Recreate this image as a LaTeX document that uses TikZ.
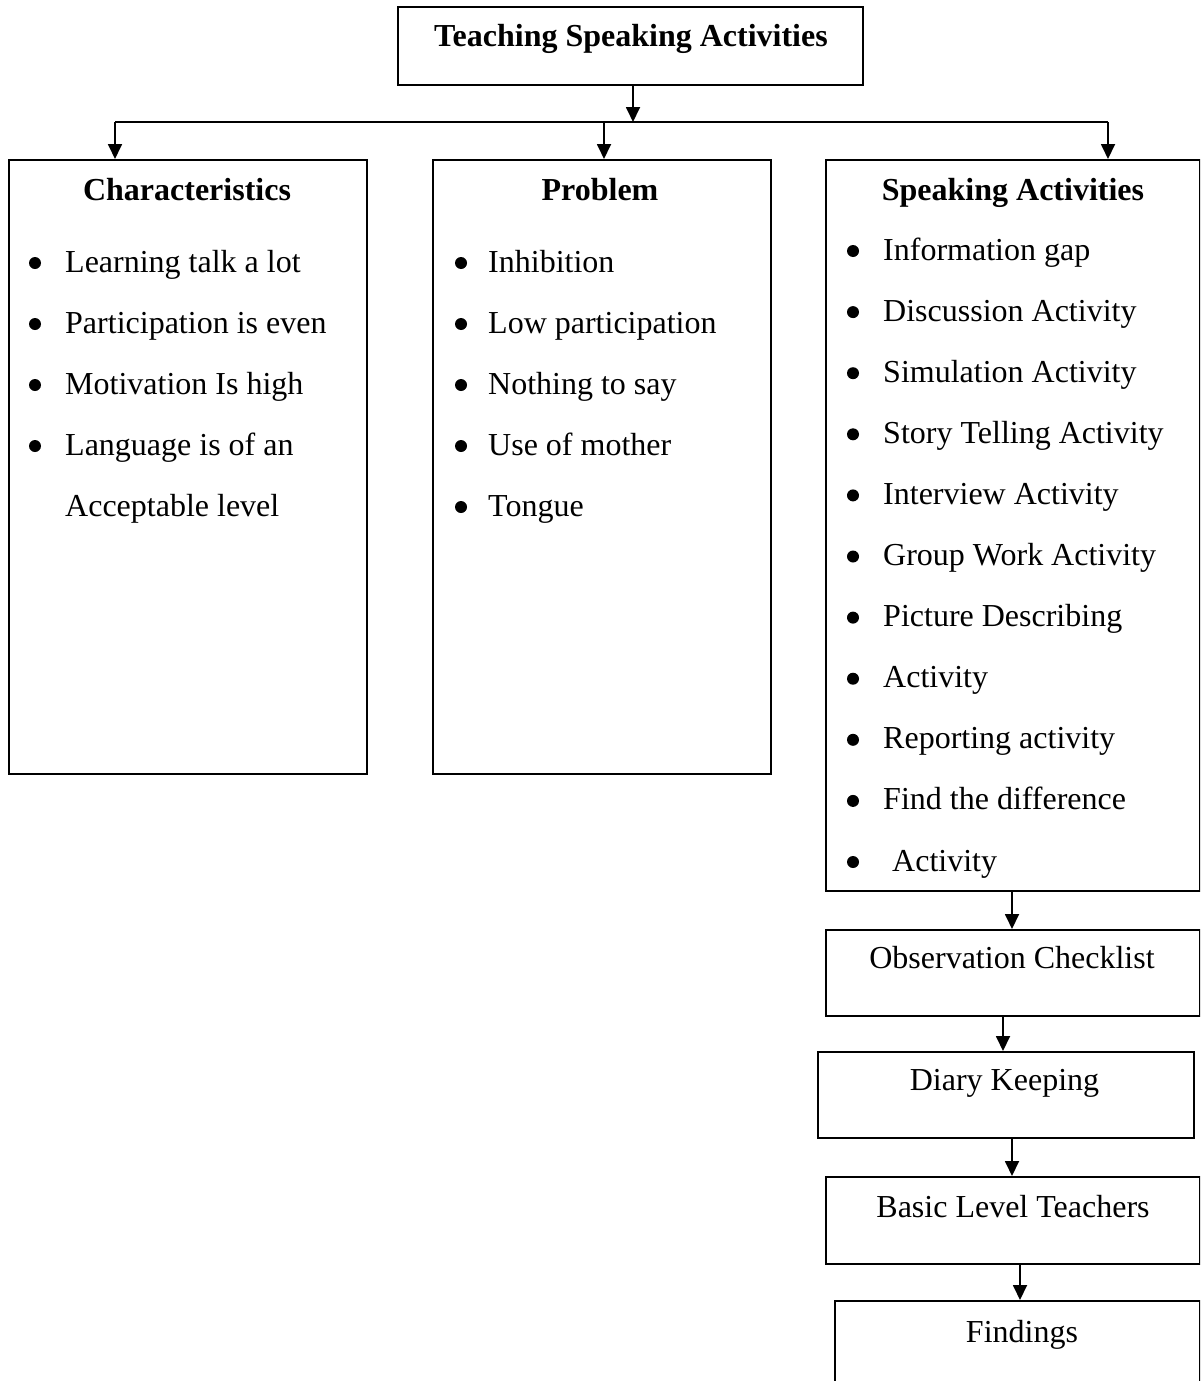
\documentclass[tikz,border=0pt]{standalone}
\usepackage{fontspec}
\setmainfont{Liberation Serif}
\usetikzlibrary{arrows.meta}
\begin{document}
\begin{tikzpicture}[x=1pt,y=-1pt,
  box/.style={draw,line width=1.8pt,rectangle,inner sep=0pt,anchor=north west},
  conn/.style={line width=1.8pt},
  arr/.style={conn,-{Triangle[width=14pt,length=15pt]}},
  txt/.style={anchor=base west,inner sep=0pt,font=\fontsize{32}{38}\selectfont},
  head/.style={anchor=base,inner sep=0pt,font=\fontsize{32}{38}\selectfont\bfseries},
  ctr/.style={anchor=base,inner sep=0pt,font=\fontsize{32}{38}\selectfont},
  dot/.style={circle,fill,inner sep=0pt,minimum size=12pt}]
\useasboundingbox (0,0) rectangle (1200,1381);
\clip (0,0) rectangle (1200,1381);
% boxes
\node[box,minimum width=465pt,minimum height=78pt] (top) at (397,6) {};
\node[box,minimum width=358pt,minimum height=614pt] (char) at (8,159) {};
\node[box,minimum width=338pt,minimum height=614pt] (prob) at (432,159) {};
\node[box,minimum width=374pt,minimum height=731pt] (spk) at (825,159) {};
\node[box,minimum width=374pt,minimum height=86pt] (obs) at (825,929) {};
\node[box,minimum width=376pt,minimum height=86pt] (diary) at (817,1051) {};
\node[box,minimum width=374pt,minimum height=87pt] (basic) at (825,1176) {};
\node[box,minimum width=365pt,minimum height=130pt] (find) at (834,1300) {};
% texts
\node[head] (ttop) at (631,47) {Teaching Speaking Activities};
\node[head] (tchar) at (187,200) {Characteristics};
\node[head] (tprob) at (600,200) {Problem};
\node[head] (tspk) at (1013,200) {Speaking Activities};
\node[ctr] (tobs) at (1012,968) {Observation Checklist};
\node[ctr] (tdiary) at (1004.5,1090) {Diary Keeping};
\node[ctr] (tbasic) at (1013,1217) {Basic Level Teachers};
\node[ctr] (tfind) at (1022,1342) {Findings};
% characteristics list
\foreach \t [count=\i from 0] in {Learning talk a lot,Participation is even,Motivation Is high,Language is of an}{
  \node[dot] (cb\i) at (35,272+61*\i-9) {};
  \node[txt] (ct\i) at (65,272+61*\i) {\t};
}
\node[txt] (ct4) at (65,516) {Acceptable level};
% problem list
\foreach \t [count=\i from 0] in {Inhibition,Low participation,Nothing to say,Use of mother,Tongue}{
  \node[dot] (pb\i) at (461,272+61*\i-9) {};
  \node[txt] (pt\i) at (488,272+61*\i) {\t};
}
% speaking list
\foreach \t [count=\i from 0] in {Information gap,Discussion Activity,Simulation Activity,Story Telling Activity,Interview Activity,Group Work Activity,Picture Describing,Activity,Reporting activity,Find the difference}{
  \node[dot] (sb\i) at (853,260+61.1*\i-9) {};
  \node[txt] (st\i) at (883,260+61.1*\i) {\t};
}
\node[dot] (sb10) at (853,871-9) {};
\node[txt] (st10) at (892,871) {Activity};
% connectors
\coordinate (c0) at (633,122);
\coordinate (h1) at (115,122);
\coordinate (h2) at (604,122);
\coordinate (h3) at (1108,122);
\draw[arr] (top.south -| c0) -- (c0);
\draw[conn] (h1) -- (h3);
\draw[arr] (h1) -- (char.north -| h1);
\draw[arr] (h2) -- (prob.north -| h2);
\draw[arr] (h3) -- (spk.north -| h3);
\coordinate (v1) at (1012,0);
\coordinate (v2) at (1003,0);
\coordinate (v3) at (1012,0);
\coordinate (v4) at (1020,0);
\draw[arr] (spk.south -| v1) -- (obs.north -| v1);
\draw[arr] (obs.south -| v2) -- (diary.north -| v2);
\draw[arr] (diary.south -| v3) -- (basic.north -| v3);
\draw[arr] (basic.south -| v4) -- (find.north -| v4);
\end{tikzpicture}
\end{document}
